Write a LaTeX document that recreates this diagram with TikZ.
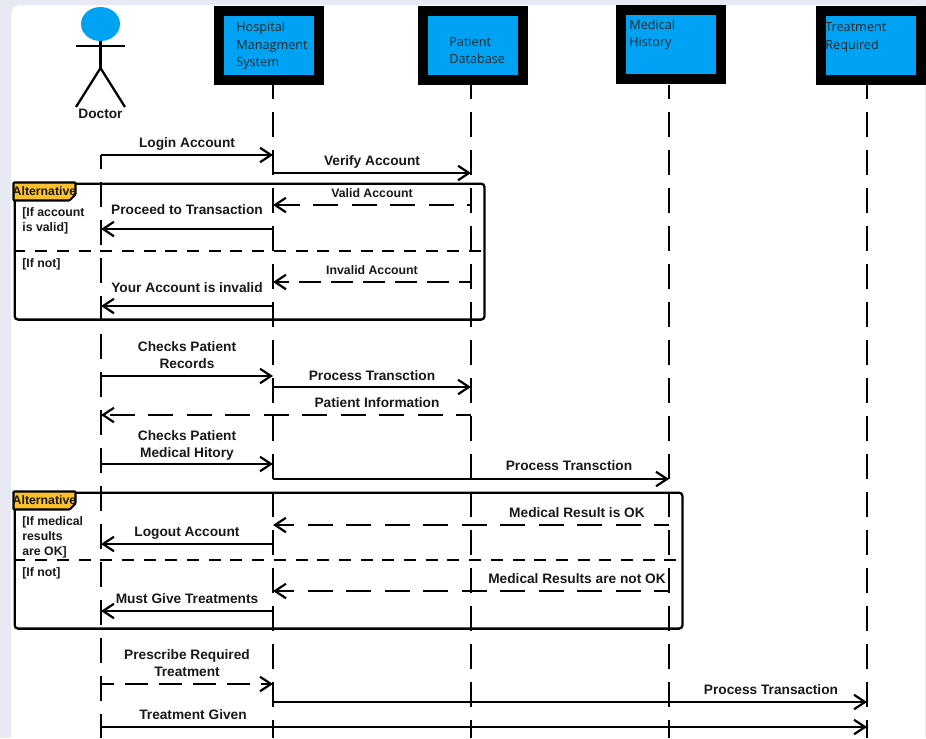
\documentclass[tikz,border=0pt]{standalone}
\usepackage{fontspec}
\setmainfont{Liberation Sans}
\newfontfamily\headfont{Open Sans}
\usetikzlibrary{arrows.meta, positioning, shapes.geometric}
\definecolor{headblue}{RGB}{0,163,243}
\definecolor{tabyellow}{RGB}{251,192,45}
\definecolor{pagegray}{RGB}{232,234,243}

\begin{document}
\begin{tikzpicture}[
    x=0.02cm, y=-0.02cm,
    head/.style={draw=black, fill=headblue, line width=0.2cm, minimum width=1.99cm, minimum height=1.38cm, inner sep=0pt},
    headtxt/.style={font=\headfont\fontsize{7.2}{9.9}\selectfont, align=left, anchor=north west, inner sep=0pt, text=black!85},
    lifeline/.style={line width=1.3pt, dash pattern=on 0.5cm off 0.26cm, dash phase=0.22cm},
    msg/.style={-{Straight Barb[length=2.2mm, width=2.9mm, line width=1.25pt]}, line width=1.25pt},
    reply/.style={msg, dash pattern=on 0.5cm off 0.27cm, dash phase=0.2cm},
    msgtxt/.style={font=\bfseries\fontsize{7.8}{9.4}\selectfont, align=center, inner sep=0pt, text=black!90, yshift=-0.03cm},
    smalltxt/.style={font=\bfseries\fontsize{7}{8.5}\selectfont, align=center, inner sep=0pt, text=black!90},
    guard/.style={font=\bfseries\fontsize{7}{8.5}\selectfont, align=left, anchor=north west, inner sep=0pt, text=black!90, yshift=-0.03cm},
    frame/.style={draw, line width=1.3pt, rounded corners=2pt},
    divider/.style={line width=1.3pt, dash pattern=on 0.24cm off 0.194cm},
    tab/.style={fill=tabyellow, draw, line width=1.2pt, rounded corners=0.5pt},
    limb/.style={line width=1.3pt}
]
\useasboundingbox (0,0) rectangle (926,738);
\fill[pagegray] (0,0) rectangle (926,738);
\fill[white, rounded corners=6pt] (11,5) rectangle (925,770);

% header boxes
\node[head] (hms) at (269,45.5) {};
\node[head] (pdb) at (473,45.5) {};
\node[head] (mhx) at (671,44.5) {};
\node[head] (trq) at (871,45.5) {};
\node[headtxt] (hmstxt) at (236,22) {Hospital\\Managment\\System};
\node[headtxt] (pdbtxt) at (449,36.5) {Patient\\Database};
\node[headtxt] (mhxtxt) at (629,19.5) {Medical\\History};
\node[headtxt] (trqtxt) at (825,22.5) {Treatment\\Required};

% doctor figure
\node[draw=none, fill=headblue, ellipse, minimum width=0.78cm, minimum height=0.68cm, inner sep=0pt] (dochead) at (100.5,24) {};
\coordinate (hip) at (100.5,68);
\coordinate (armL) at (76,46);
\coordinate (armR) at (125,46);
\coordinate (footL) at (76,107);
\coordinate (footR) at (125,107);
\draw[limb] (dochead.south) -- (hip);
\draw[limb] (armL) -- (armR);
\draw[limb] (footL) -- (hip) -- (footR);
\node[msgtxt] (doctxt) at (100.5,112.5) {Doctor};

% lifeline ends
\coordinate (doc) at (101,155);
\coordinate (hmsl) at (273,85);
\coordinate (pdbl) at (471,85);
\coordinate (mhxl) at (669,85);
\coordinate (trql) at (867,85);
\coordinate (bottom) at (0,738);

% alternative frames
\node[frame, minimum width=9.4cm, minimum height=2.72cm, inner sep=0pt, anchor=north west] (altA) at (13.5,182.5) {};
\node[frame, minimum width=13.36cm, minimum height=2.72cm, inner sep=0pt, anchor=north west] (altB) at (13.5,491.5) {};
\draw[tab] (altA.north west) -- ++(62,0) -- ++(0,12) -- ++(-6,6) -- ++(-56,0) -- cycle;
\draw[tab] (altB.north west) -- ++(62,0) -- ++(0,12) -- ++(-6,6) -- ++(-56,0) -- cycle;
\node[smalltxt] (altAtxt) at (44.5,191) {Alternative};
\node[smalltxt] (altBtxt) at (44.5,500) {Alternative};
\node[guard] (gA1) at (22,206) {[If account\\is valid]};
\node[guard] (gA2) at (22,257) {[If not]};
\node[guard] (gB1) at (22,515) {[If medical\\results\\are OK]};
\node[guard] (gB2) at (22,566) {[If not]};
\coordinate (divA) at (0,251);
\coordinate (divB) at (0,560);
\draw[divider] (altA.west |- divA) -- ([xshift=-0.04cm]altA.east |- divA);
\draw[divider] (altB.west |- divB) -- ([xshift=-0.12cm]altB.east |- divB);

% lifelines
\draw[lifeline] (doc) -- (doc |- bottom);
\draw[lifeline] (hmsl) -- (hmsl |- bottom);
\draw[lifeline] (pdbl) -- (pdbl |- bottom);
\draw[lifeline] (mhxl) -- (mhxl |- bottom);
\draw[lifeline] (trql) -- (trql |- bottom);

% messages, top to bottom
\coordinate (m1) at (0,155);
\coordinate (m2) at (0,173);
\coordinate (m3) at (0,205);
\coordinate (m4) at (0,229);
\coordinate (m5) at (0,282);
\coordinate (m6) at (0,306);
\coordinate (m7) at (0,376);
\coordinate (m8) at (0,387);
\coordinate (m9) at (0,415);
\coordinate (m10) at (0,464);
\coordinate (m11) at (0,479);
\coordinate (m12) at (0,525);
\coordinate (m13) at (0,544);
\coordinate (m14) at (0,591);
\coordinate (m15) at (0,611);
\coordinate (m16) at (0,684);
\coordinate (m17) at (0,702);
\coordinate (m18) at (0,727);

\draw[msg] (doc |- m1) -- (hmsl |- m1);
\draw[msg] (hmsl |- m2) -- (pdbl |- m2);
\draw[reply, dash phase=0.42cm] (pdbl |- m3) -- (hmsl |- m3);
\draw[msg] (hmsl |- m4) -- (doc |- m4);
\draw[reply, dash pattern=on 0.44cm off 0.2cm] (pdbl |- m5) -- (hmsl |- m5);
\draw[msg] (hmsl |- m6) -- (doc |- m6);
\draw[msg] (doc |- m7) -- (hmsl |- m7);
\draw[msg] (hmsl |- m8) -- (pdbl |- m8);
\draw[reply] (pdbl |- m9) -- (doc |- m9);
\draw[msg] (doc |- m10) -- (hmsl |- m10);
\draw[msg] (hmsl |- m11) -- (mhxl |- m11);
\draw[reply] (mhxl |- m12) -- (hmsl |- m12);
\draw[msg] (hmsl |- m13) -- (doc |- m13);
\draw[reply] (mhxl |- m14) -- (hmsl |- m14);
\draw[msg] (hmsl |- m15) -- (doc |- m15);
\draw[reply, dash pattern=on 0.46cm off 0.22cm, dash phase=0.2cm] (doc |- m16) -- (hmsl |- m16);
\draw[msg] (hmsl |- m17) -- (trql |- m17);
\draw[msg] (doc |- m18) -- (trql |- m18);

\node[msgtxt] (t1) at (187,142) {Login Account};
\node[msgtxt] (t2) at (372,160) {Verify Account};
\node[smalltxt] (t3) at (372,193) {Valid Account};
\node[msgtxt] (t4) at (187,208) {Proceed to Transaction};
\node[smalltxt] (t5) at (372,270) {Invalid Account};
\node[msgtxt] (t6) at (187,286) {Your Account is invalid};
\node[msgtxt] (t7) at (187,353.5) {Checks Patient\\Records};
\node[msgtxt] (t8) at (372,374) {Process Transction};
\node[msgtxt] (t9) at (377,401.5) {Patient Information};
\node[msgtxt] (t10) at (187,444) {Checks Patient\\Medical Hitory};
\node[msgtxt] (t11) at (569,464.5) {Process Transction};
\node[msgtxt] (t12) at (577,511.5) {Medical Result is OK};
\node[msgtxt] (t13) at (187,531.5) {Logout Account};
\node[msgtxt] (t14) at (577,577.5) {Medical Results are not OK};
\node[msgtxt] (t15) at (187,597) {Must Give Treatments};
\node[msgtxt] (t16) at (187,661.5) {Prescribe Required\\Treatment};
\node[msgtxt] (t17) at (771,688) {Process Transaction};
\node[msgtxt] (t18) at (193,713) {Treatment Given};
\end{tikzpicture}
\end{document}
